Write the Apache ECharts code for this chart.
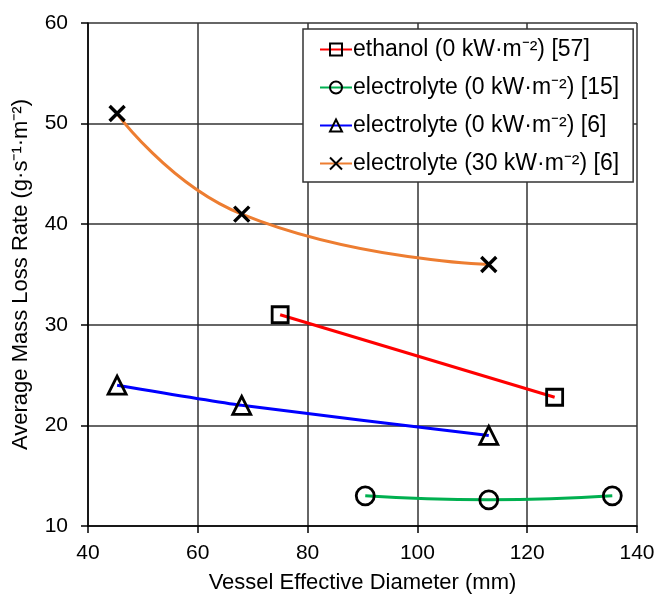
<!DOCTYPE html>
<html><head><meta charset="utf-8">
<script src="https://cdn.jsdelivr.net/npm/echarts@6/dist/echarts.min.js"></script>
<style>html,body{margin:0;padding:0;background:#fff}#c{width:659px;height:594px}</style>
</head><body><div id="c"></div>
<script>
const xTicks = [40, 60, 80, 100, 120, 140];
const yTicks = [10, 20, 30, 40, 50, 60];
const seriesNames = ['ethanol (0 kW·m⁻²) [57]', 'electrolyte (0 kW·m⁻²) [15]', 'electrolyte (0 kW·m⁻²) [6]', 'electrolyte (30 kW·m⁻²) [6]'];
const ethanolX = [75, 125];
const ethanolY = [31, 22.8];
const elec15X = [90.5, 113, 135.5];
const elec15Y = [13, 12.6, 13];
const elec6X = [45.3, 68, 113];
const elec6Y = [24, 22, 19];
const elec30X = [45.3, 68, 113];
const elec30Y = [51, 41, 36];

const pairs = (xs, ys) => xs.map((x, i) => [x, ys[i]]);
const FONT = 'Liberation Sans, Arial, sans-serif';
const crossPath = 'path://M0,0L10,10M10,0L0,10';
function mk(name, data, color, symbol, size, smooth) {
  return {
    name, type: 'line', data, smooth, symbol, symbolSize: size,
    lineStyle: { color, width: 3 },
    itemStyle: { color: 'transparent', borderColor: '#000', borderWidth: symbol === crossPath ? 3.4 : 2.8 },
    emphasis: { disabled: true }, z: 3
  };
}
const chart = echarts.init(document.getElementById('c'), null, { renderer: 'canvas' });
chart.setOption({
  animation: false,
  backgroundColor: '#fff',
  textStyle: { fontFamily: FONT },
  grid: { left: 88, right: 22, top: 23, bottom: 68, containLabel: false, outerBoundsMode: 'none' },
  xAxis: {
    type: 'value', min: xTicks[0], max: xTicks[xTicks.length - 1], interval: 20,
    name: 'Vessel Effective Diameter (mm)', nameLocation: 'middle', nameGap: 46,
    nameTextStyle: { fontSize: 22, color: '#000', fontFamily: FONT },
    axisLine: { lineStyle: { color: '#000', width: 1.5 } },
    axisTick: { show: true, inside: false, length: 7, lineStyle: { color: '#000', width: 1.5 } },
    axisLabel: { fontSize: 21, color: '#000', margin: 17, fontFamily: FONT },
    splitLine: { show: true, lineStyle: { color: '#333', width: 1.5 } }
  },
  yAxis: {
    type: 'value', min: yTicks[0], max: yTicks[yTicks.length - 1], interval: 10,
    name: 'Average Mass Loss Rate (g·s⁻¹·m⁻²)', nameLocation: 'middle', nameGap: 56,
    nameTextStyle: { fontSize: 22, color: '#000', fontFamily: FONT },
    axisLine: { show: true, lineStyle: { color: '#000', width: 1.5 } },
    axisTick: { show: true, inside: false, length: 7, lineStyle: { color: '#000', width: 1.5 } },
    axisLabel: { fontSize: 21, color: '#000', margin: 20, fontFamily: FONT },
    splitLine: { show: true, lineStyle: { color: '#333', width: 1.5 } }
  },
  legend: {
    orient: 'vertical', left: 303, top: 29, padding: [9, 14, 7, 16],
    backgroundColor: '#fff', borderColor: '#333', borderWidth: 1.5,
    itemWidth: 32, itemHeight: 15, itemGap: 15,
    textStyle: { fontSize: 23, color: '#000', fontFamily: FONT, padding: [0, 0, 0, -4] },
    data: seriesNames
  },
  series: [
    mk(seriesNames[0], pairs(ethanolX, ethanolY), '#ff0000', 'rect', 16, false),
    mk(seriesNames[1], pairs(elec15X, elec15Y), '#00b050', 'circle', 18, 0.5),
    mk(seriesNames[2], pairs(elec6X, elec6Y), '#0000ff', 'triangle', 18, 0.2),
    mk(seriesNames[3], pairs(elec30X, elec30Y), '#ed7d31', crossPath, 15, 0.5)
  ]
});
</script></body></html>
